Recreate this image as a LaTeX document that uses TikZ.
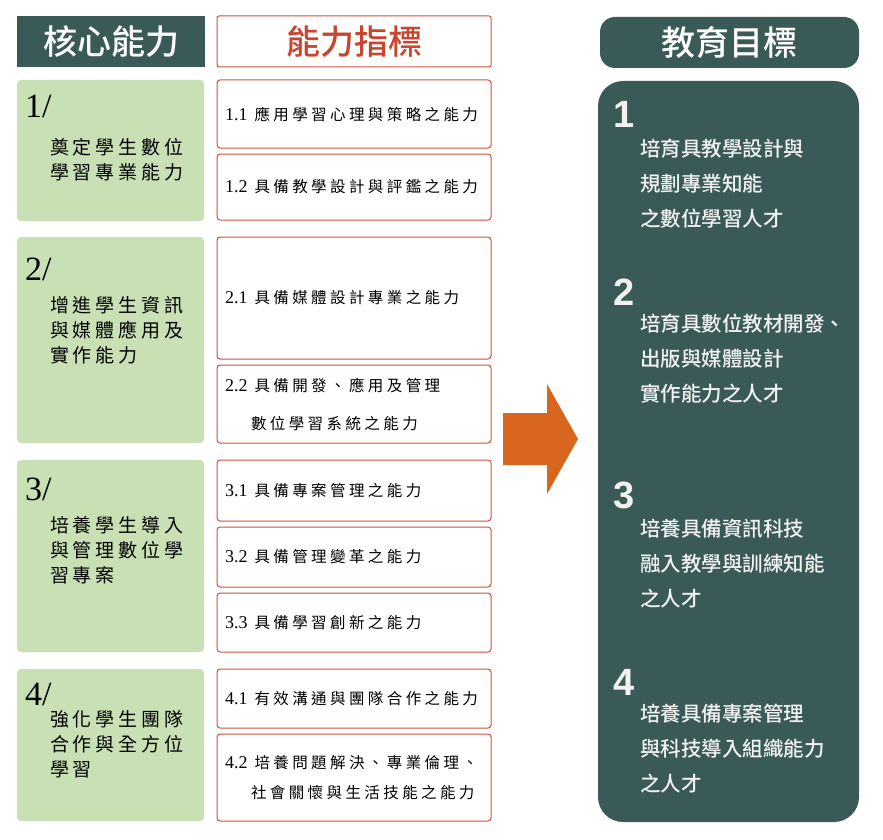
\documentclass[tikz,border=0pt]{standalone}
\usepackage{fontspec}
\usepackage{tikz}
\usetikzlibrary{positioning}

\newfontfamily\cjkhead{Noto Sans CJK TC Medium}
\newfontfamily\cjkcore{Noto Sans CJK TC}[LetterSpace=21]
\newfontfamily\cjkitem{Noto Sans CJK TC}[LetterSpace=22]
\newfontfamily\numsans{Liberation Sans}
\newfontfamily\numserif{Liberation Serif}

\definecolor{darkteal}{HTML}{3A5A58}
\definecolor{coregreen}{HTML}{C8E0B4}
\definecolor{redline}{HTML}{D2513E}
\definecolor{redtext}{HTML}{C9452E}
\definecolor{arroworange}{HTML}{D9661E}
\definecolor{goalwhite}{HTML}{F2F2F2}

\newcommand{\itemno}[1]{{\numserif\fontsize{18}{30}\selectfont #1}\hspace{7pt}}

\begin{document}
\begin{tikzpicture}[
  x=1pt, y=-1pt,
  node distance=6pt,
  every node/.style={inner sep=0pt, outer sep=0pt},
  head/.style={minimum height=51pt, font=\cjkhead\fontsize{34}{34}\selectfont},
  corebox/.style={fill=coregreen, rounded corners=4pt, minimum width=187pt, anchor=north west},
  corenum/.style={font=\numserif\fontsize{34}{34}\selectfont, anchor=base west},
  coretext/.style={font=\cjkcore\fontsize{19}{25}\selectfont, align=left, anchor=north west},
  itembox/.style={draw=redline, line width=1pt, fill=white, rounded corners=3pt,
    text width=258pt, inner xsep=8pt, align=left, font=\cjkitem\fontsize{15.5}{30}\selectfont},
  goalbox/.style={fill=darkteal, rounded corners=25pt, minimum width=261pt, minimum height=741pt, anchor=north west},
  goalnum/.style={font=\numsans\bfseries\fontsize{38}{38}\selectfont, text=goalwhite, anchor=base west},
  goaltext/.style={font=\cjkhead\fontsize{20.5}{35}\selectfont, text=goalwhite, align=left, anchor=north west}
]
\fill[white] (0,0) rectangle (883,840);
\useasboundingbox (0,0) rectangle (883,840);

% Headers
\node[head, fill=darkteal, text=white, minimum width=188pt, anchor=north west] (hcore) at (17,16) {核心能力};
\node[head, draw=redline, line width=1pt, rounded corners=2pt, text=redtext, minimum width=274pt, right=12pt of hcore] (hind) {能力指標};
\node[head, fill=darkteal, text=white, rounded corners=15pt, minimum width=259pt, anchor=north west] (hgoal) at (600,17) {教育目標};

% Core abilities
\node[corebox, minimum height=141pt] (c1) at (17,80) {};
\node[corebox, minimum height=206pt, below=16pt of c1] (c2) {};
\node[corebox, minimum height=192pt, below=17pt of c2] (c3) {};
\node[corebox, minimum height=152pt, below=17pt of c3] (c4) {};

\node[corenum, below right=38pt and 8pt of c1.north west, anchor=base west] (n1) {1/};
\node[coretext, below right=58pt and 33pt of c1.north west, anchor=north west] (t1) {奠定學生數位\\學習專業能力};
\node[corenum, below right=43pt and 8pt of c2.north west, anchor=base west] (n2) {2/};
\node[coretext, below right=59pt and 33pt of c2.north west, anchor=north west] (t2) {增進學生資訊\\與媒體應用及\\實作能力};
\node[corenum, below right=40pt and 8pt of c3.north west, anchor=base west] (n3) {3/};
\node[coretext, below right=56pt and 33pt of c3.north west, anchor=north west] (t3) {培養學生導入\\與管理數位學\\習專案};
\node[corenum, below right=36pt and 8pt of c4.north west, anchor=base west] (n4) {4/};
\node[coretext, below right=42pt and 33pt of c4.north west, anchor=north west] (t4) {強化學生團隊\\合作與全方位\\學習};

% Ability indicators
\node[itembox, minimum height=68pt, right=13pt of c1.north east, anchor=north west] (i11) {\itemno{1.1}應用學習心理與策略之能力};
\node[itembox, minimum height=66pt, below=of i11] (i12) {\itemno{1.2}具備教學設計與評鑑之能力};
\node[itembox, minimum height=122pt, right=13pt of c2.north east, anchor=north west] (i21) {\itemno{2.1}具備媒體設計專業之能力};
\node[itembox, minimum height=78pt, below=of i21] (i22) {\itemno{2.2}具備開發、應用及管理\\[8pt]\hspace*{26pt}數位學習系統之能力};
\node[itembox, minimum height=61pt, right=13pt of c3.north east, anchor=north west] (i31) {\itemno{3.1}具備專案管理之能力};
\node[itembox, minimum height=60pt, below=of i31] (i32) {\itemno{3.2}具備管理變革之能力};
\node[itembox, minimum height=59pt, below=of i32] (i33) {\itemno{3.3}具備學習創新之能力};
\node[itembox, minimum height=59pt, right=13pt of c4.north east, anchor=north west] (i41) {\itemno{4.1}有效溝通與團隊合作之能力};
\node[itembox, minimum height=87pt, below=of i41] (i42) {\itemno{4.2}培養問題解決、專業倫理、\\\hspace*{26pt}社會關懷與生活技能之能力};

% Arrow
\fill[arroworange] (503,413) -- (547,413) -- (547,384) -- (578,439) -- (547,494) -- (547,465) -- (503,465) -- cycle;

% Education goals
\node[goalbox] (goal) at (598,81) {};
\node[goalnum] (g1n) at (613,128) {1};
\node[goaltext] (g1t) at (640,139) {培育具教學設計與\\規劃專業知能\\之數位學習人才};
\node[goalnum] (g2n) at (613,305) {2};
\node[goaltext] (g2t) at (640,314) {培育具數位教材開發、\\出版與媒體設計\\實作能力之人才};
\node[goalnum] (g3n) at (613,508) {3};
\node[goaltext] (g3t) at (640,519) {培養具備資訊科技\\融入教學與訓練知能\\之人才};
\node[goalnum] (g4n) at (613,695) {4};
\node[goaltext] (g4t) at (640,704) {培養具備專案管理\\與科技導入組織能力\\之人才};
\end{tikzpicture}
\end{document}
